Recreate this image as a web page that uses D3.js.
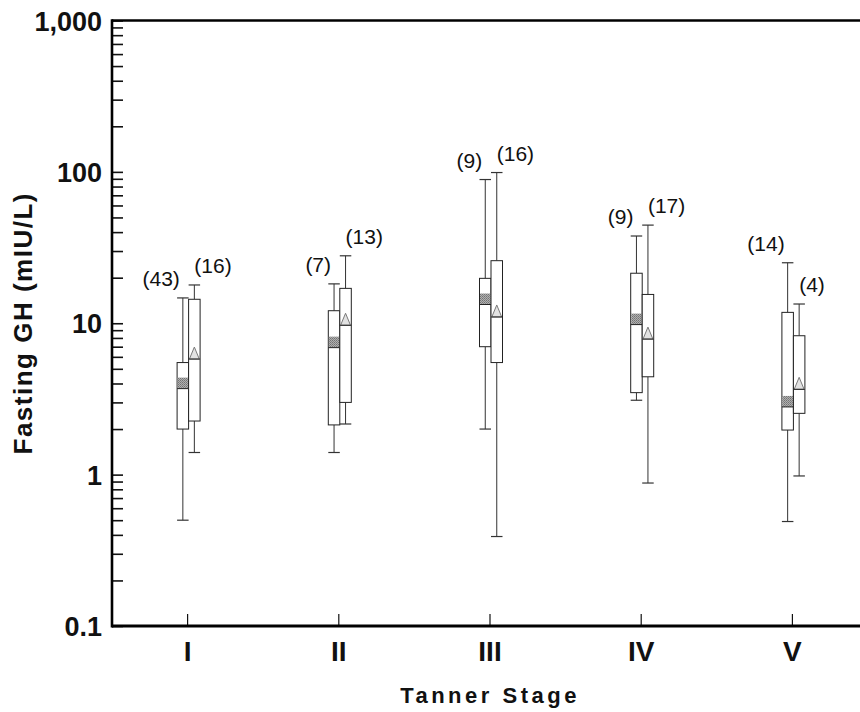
<!DOCTYPE html>
<html>
<head>
<meta charset="utf-8">
<script src="https://cdn.jsdelivr.net/npm/d3@7"></script>
<style>
  body { margin: 0; background: #fff; }
  svg { display: block; }
  .tick-y text { font: bold 27px "Liberation Sans", Arial, sans-serif; fill: #111; }
  .tick-x text { font: bold 28px "Liberation Sans", Arial, sans-serif; fill: #111; }
  .nlabel { font: 21px "Liberation Sans", Arial, sans-serif; fill: #111; }
  .title { font: bold 24px "Liberation Sans", Arial, sans-serif; fill: #111; }
</style>
</head>
<body>
<div id="chart"></div>
<script>
// Tanner stages and group sizes
const stages = ["I", "II", "III", "IV", "V"];
const nA = [43, 7, 9, 9, 14];
const nB = [16, 13, 16, 17, 4];

// left box of each pair (square marker)
const minA = [0.5, 1.4, 2.0, 3.1, 0.49];
const q1A  = [2.0, 2.13, 7.0, 3.48, 1.97];
const medA = [3.7, 6.9, 13.3, 9.8, 2.8];
const q3A  = [5.5, 12.1, 19.8, 21.4, 11.8];
const maxA = [14.7, 18.2, 89, 37.7, 25.1];

// right box of each pair (triangle marker)
const minB = [1.4, 2.16, 0.39, 0.88, 0.98];
const q1B  = [2.26, 3.0, 5.5, 4.43, 2.54];
const medB = [5.8, 9.7, 11.0, 7.86, 3.66];
const q3B  = [14.4, 17.0, 25.9, 15.5, 8.27];
const maxB = [17.9, 27.9, 99, 44.5, 13.4];

const yTicks = [0.1, 1, 10, 100, 1000];
const yTickLabels = ["0.1", "1", "10", "100", "1,000"];

const width = 860, height = 712;
const mLeft = 112, mTop = 20.5, mBottom = 626;

const svg = d3.select("#chart").append("svg")
  .attr("width", width)
  .attr("height", height);

const defs = svg.append("defs");
const pat = defs.append("pattern")
  .attr("id", "stipple")
  .attr("width", 2).attr("height", 2)
  .attr("patternUnits", "userSpaceOnUse");
pat.append("rect").attr("width", 2).attr("height", 2).attr("fill", "#b0b0b0");
pat.append("rect").attr("width", 1).attr("height", 1).attr("fill", "#737373");
pat.append("rect").attr("x", 1).attr("y", 1).attr("width", 1).attr("height", 1).attr("fill", "#858585");

const y = d3.scaleLog().domain([0.1, 1000]).range([mBottom, mTop]);
const x = d3.scaleBand().domain(stages).range([mLeft, 868]);

// minor + major ticks on the log axis
const allTicks = [];
[0.1, 1, 10, 100].forEach(d => {
  for (let k = 1; k < 10; k++) allTicks.push(d * k);
});
allTicks.push(1000);

const yAxis = d3.axisLeft(y)
  .tickValues(allTicks)
  .tickSize(-11)
  .tickPadding(10)
  .tickFormat(d => {
    const i = yTicks.findIndex(t => Math.abs(t - d) < 1e-9);
    return i >= 0 ? yTickLabels[i] : "";
  });

const gy = svg.append("g")
  .attr("class", "tick-y")
  .attr("transform", `translate(${mLeft},0)`)
  .call(yAxis);
gy.select(".domain").remove();
gy.selectAll(".tick line").attr("stroke", "#111").attr("stroke-width", 1.6);
gy.selectAll(".tick text").attr("dy", "0.36em");

const xAxis = d3.axisBottom(x).tickSize(-12).tickPadding(0);
const gx = svg.append("g")
  .attr("class", "tick-x")
  .attr("transform", `translate(0,${mBottom})`)
  .call(xAxis);
gx.select(".domain").remove();
gx.selectAll(".tick line").attr("stroke", "#111").attr("stroke-width", 1.2);
gx.selectAll(".tick text").attr("y", 35).attr("dy", null);

// frame lines: left, top, bottom
svg.append("line").attr("x1", mLeft).attr("x2", mLeft).attr("y1", mTop - 1.2).attr("y2", mBottom + 1.5)
  .attr("stroke", "#000").attr("stroke-width", 2.6);
svg.append("line").attr("x1", mLeft).attr("x2", width).attr("y1", mTop).attr("y2", mTop)
  .attr("stroke", "#000").attr("stroke-width", 2.4);
svg.append("line").attr("x1", mLeft).attr("x2", width).attr("y1", mBottom).attr("y2", mBottom)
  .attr("stroke", "#000").attr("stroke-width", 2.8);

// boxes
const bw = 11.5;
const groups = [
  { min: minA, q1: q1A, med: medA, q3: q3A, max: maxA, n: nA, off: -bw, marker: "square" },
  { min: minB, q1: q1B, med: medB, q3: q3B, max: maxB, n: nB, off: 0, marker: "triangle" }
];

const plot = svg.append("g");

groups.forEach((g, gi) => {
  stages.forEach((s, i) => {
    const x0 = x(s) + x.bandwidth() / 2 + 1 + g.off;
    const xc = x0 + bw / 2;
    const gg = plot.append("g");

    // whiskers
    gg.append("line").attr("x1", xc).attr("x2", xc)
      .attr("y1", y(g.max[i])).attr("y2", y(g.q3[i]))
      .attr("stroke", "#333").attr("stroke-width", 1);
    gg.append("line").attr("x1", xc).attr("x2", xc)
      .attr("y1", y(g.q1[i])).attr("y2", y(g.min[i]))
      .attr("stroke", "#333").attr("stroke-width", 1);
    [g.max[i], g.min[i]].forEach(v => {
      gg.append("line").attr("x1", x0).attr("x2", x0 + bw)
        .attr("y1", y(v)).attr("y2", y(v))
        .attr("stroke", "#333").attr("stroke-width", 1.2);
    });

    // box
    gg.append("rect")
      .attr("x", x0).attr("y", y(g.q3[i]))
      .attr("width", bw).attr("height", y(g.q1[i]) - y(g.q3[i]))
      .attr("fill", "#fff").attr("stroke", "#222").attr("stroke-width", 1);

    // marker sitting on the median line
    const ym = y(g.med[i]);
    if (g.marker === "square") {
      gg.append("rect")
        .attr("x", x0 + 0.5).attr("y", ym - 11)
        .attr("width", bw - 1).attr("height", 11)
        .attr("fill", "url(#stipple)");
    } else {
      gg.append("path")
        .attr("d", `M${xc},${ym - 12}L${x0 + 0.8},${ym}L${x0 + bw - 0.8},${ym}Z`)
        .attr("fill", "#e2e2e2").attr("stroke", "#7a7a7a").attr("stroke-width", 1);
    }
    gg.append("line").attr("x1", x0).attr("x2", x0 + bw)
      .attr("y1", ym).attr("y2", ym)
      .attr("stroke", "#222").attr("stroke-width", 1);

    // sample size
    gg.append("text")
      .attr("class", "nlabel")
      .attr("x", gi === 0 ? xc - 3 : xc)
      .attr("y", y(g.max[i]) - 12)
      .attr("text-anchor", gi === 0 ? "end" : "start")
      .text(`(${g.n[i]})`);
  });
});

// axis titles
svg.append("text")
  .attr("class", "title")
  .attr("x", (x("III") + x.bandwidth() / 2))
  .attr("y", 703)
  .attr("text-anchor", "middle")
  .attr("letter-spacing", 3.5)
  .style("font-size", "22px")
  .text("Tanner Stage");

svg.append("text")
  .attr("class", "title")
  .attr("transform", `translate(32,${y(10)}) rotate(-90)`)
  .attr("text-anchor", "middle")
  .attr("letter-spacing", 1.5)
  .style("font-size", "26px")
  .text("Fasting GH (mIU/L)");
</script>
</body>
</html>
